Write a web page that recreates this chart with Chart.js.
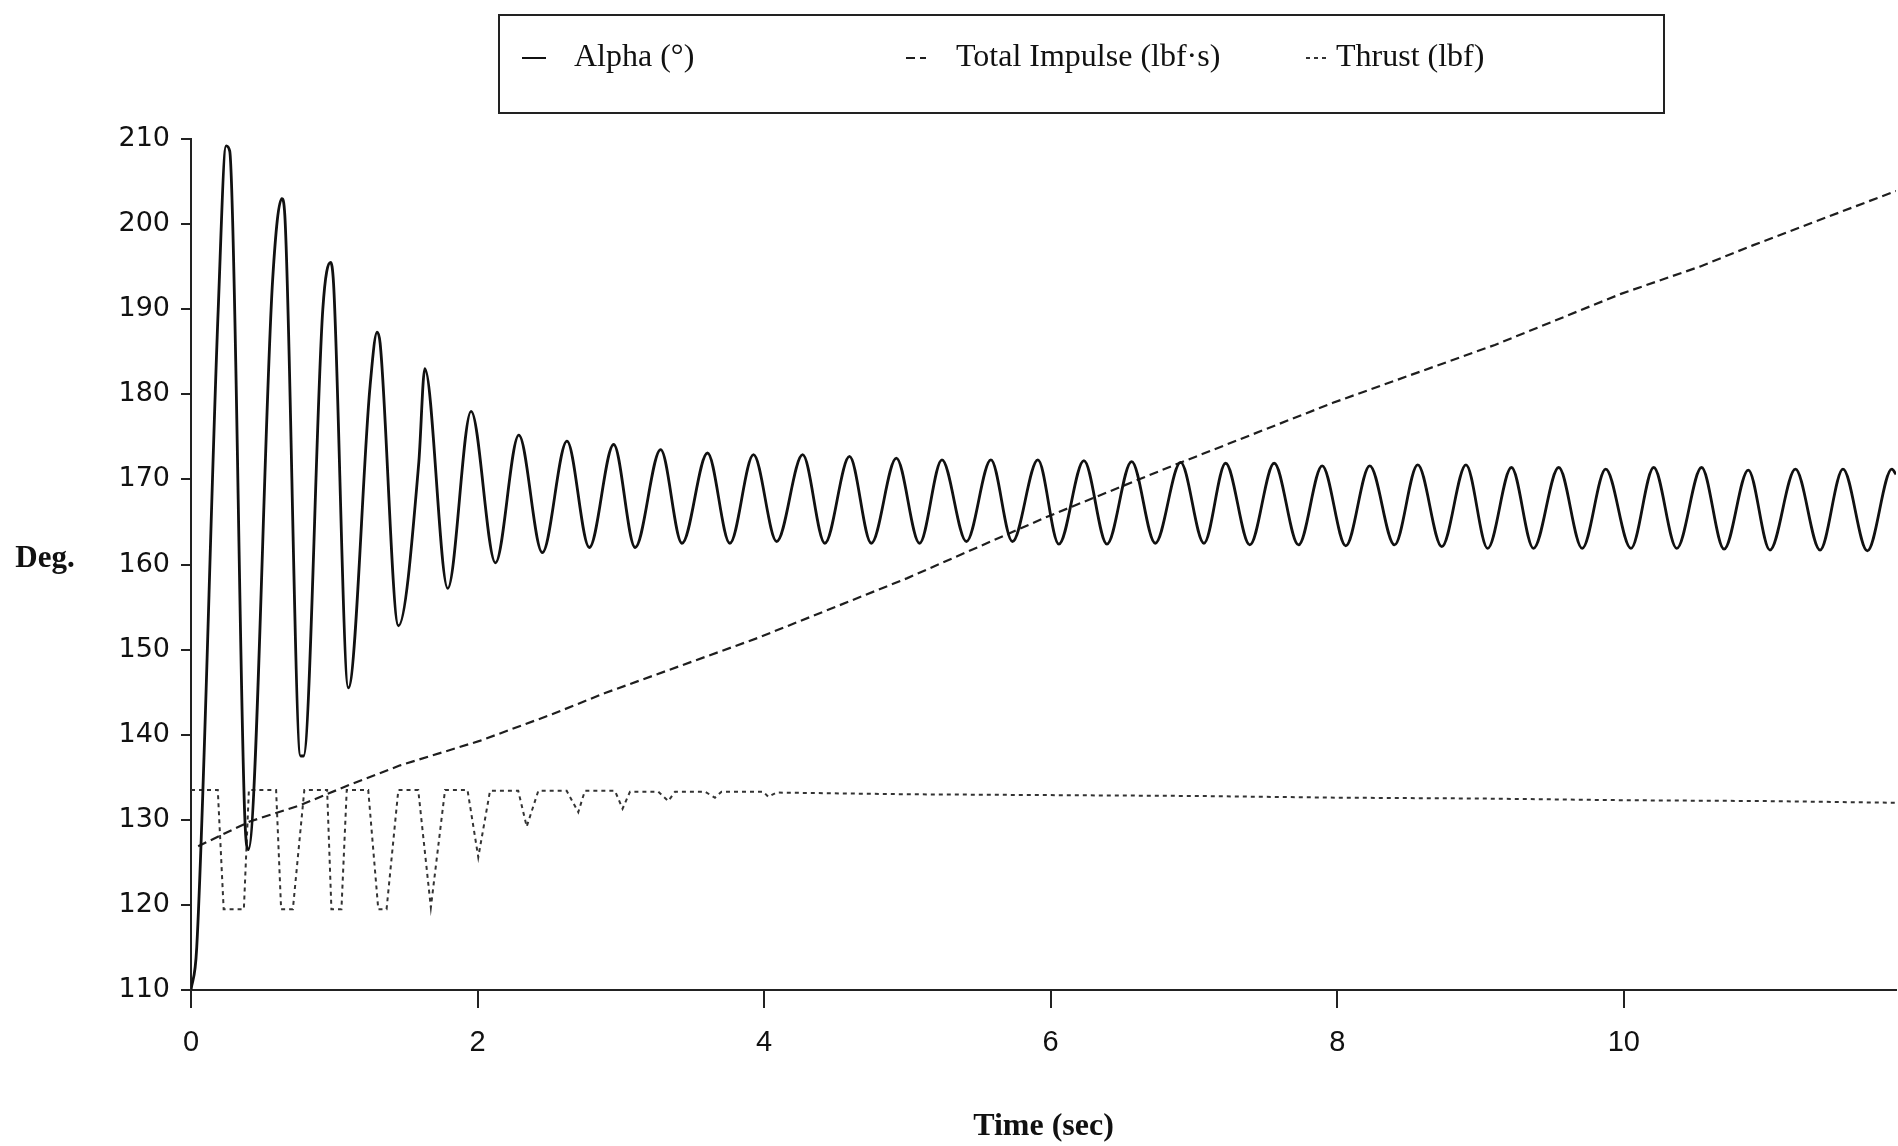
<!DOCTYPE html>
<html>
<head>
<meta charset="utf-8">
<title>Alpha, Total Impulse and Thrust vs Time</title>
<script src="https://cdn.jsdelivr.net/npm/chart.js@4.4.1/dist/chart.umd.min.js"></script>
<style>
  html, body { margin: 0; padding: 0; background: #fff; }
  #wrap { position: relative; width: 1898px; height: 1146px; }
</style>
</head>
<body>
<div id="wrap"><canvas id="myChart"></canvas></div>
<script>
// Series names
const seriesLabels = ["Alpha (°)", "Total Impulse (lbf·s)", "Thrust (lbf)"];

// Alpha (deg) - turning points
const alphaTime = [0, 0.04, 0.19, 0.245, 0.27, 0.375, 0.40, 0.57, 0.634, 0.655, 0.765, 0.785, 0.92, 0.974, 0.995,
    1.098, 1.25, 1.299, 1.32, 1.448, 1.59, 1.632, 1.792, 1.955, 2.125,
    2.288, 2.452, 2.624, 2.780, 2.950, 3.100, 3.278, 3.427, 3.605, 3.761, 3.926, 4.088, 4.269, 4.424,
    4.596, 4.748, 4.923, 5.085, 5.241, 5.412, 5.583, 5.733, 5.911, 6.057, 6.232, 6.393, 6.565, 6.730,
    6.907, 7.07, 7.221, 7.39, 7.560, 7.73, 7.895, 8.06, 8.227, 8.40, 8.562, 8.73, 8.899, 9.05,
    9.216, 9.37, 9.546, 9.71, 9.874, 10.05, 10.209, 10.37, 10.543, 10.70, 10.869, 11.02, 11.198, 11.37,
    11.530, 11.70, 11.871, 11.9];
const alphaDeg = [110, 115, 190, 209.2, 208.6, 130.5, 126.5, 193.5, 203, 201, 137.5, 137.5, 190, 195.5, 193,
    145.5, 181, 187.3, 186, 152.8, 172, 183, 157.2, 178, 160.2,
    175.2, 161.4, 174.5, 162.0, 174.1, 162.0, 173.5, 162.5, 173.1, 162.5, 172.9, 162.7, 172.9, 162.5,
    172.7, 162.5, 172.5, 162.5, 172.3, 162.7, 172.3, 162.7, 172.3, 162.4, 172.2, 162.4, 172.1, 162.5,
    172.0, 162.5, 171.9, 162.3, 171.9, 162.3, 171.6, 162.2, 171.6, 162.3, 171.7, 162.1, 171.7, 161.9,
    171.4, 161.9, 171.4, 161.9, 171.2, 161.9, 171.4, 161.9, 171.4, 161.8, 171.1, 161.7, 171.2, 161.7,
    171.2, 161.6, 171.2, 170.6];

// Total impulse (lbf-s)
const impulseTime = [0.05, 0.41, 0.76, 1.09, 1.46, 2.02, 2.52, 2.89, 3.96, 5.0, 5.96, 6.85, 7.97, 9.1, 9.98, 10.53, 10.9, 11.9];
const impulseValue = [126.9, 129.8, 131.7, 134.0, 136.4, 139.3, 142.4, 144.9, 151.4, 158.4, 165.5, 171.6, 179.0, 185.8, 191.8, 195.0, 197.5, 203.9];

// Thrust (lbf)
const thrustTime = [0, 0.187, 0.228, 0.369, 0.404, 0.594, 0.629, 0.711, 0.791, 0.95, 0.98, 1.05, 1.087,
    1.237, 1.307, 1.365, 1.447, 1.586, 1.674, 1.773, 1.93, 2.005, 2.087, 2.284, 2.343, 2.424,
    2.622, 2.703, 2.749, 2.959, 3.012, 3.064, 3.261, 3.331, 3.378, 3.587, 3.657, 3.703, 3.994, 4.029, 4.087,
    5, 6, 7, 8, 9, 10, 11, 11.9];
const thrustValue = [133.5, 133.5, 119.5, 119.5, 133.5, 133.5, 119.5, 119.5, 133.5, 133.5, 119.5, 119.5, 133.5,
    133.5, 119.5, 119.5, 133.5, 133.5, 119.7, 133.5, 133.5, 125.6, 133.4, 133.4, 129.2, 133.4,
    133.4, 130.9, 133.4, 133.4, 131.3, 133.3, 133.3, 132.2, 133.3, 133.3, 132.6, 133.3, 133.3, 132.7, 133.2,
    133.0, 132.9, 132.8, 132.6, 132.5, 132.3, 132.2, 132.0];

// Axis ticks
const xTicks = [0, 2, 4, 6, 8, 10];
const yTicks = [110, 120, 130, 140, 150, 160, 170, 180, 190, 200, 210];

const toPoints = (xs, ys) => xs.map((x, i) => ({ x: x, y: ys[i] }));

// Boxed legend across the top plus the horizontal "Deg." label
const boxLegend = {
    id: 'boxLegend',
    afterDraw(chart, args, opts) {
        const ctx = chart.ctx;
        ctx.save();
        ctx.strokeStyle = '#222';
        ctx.lineWidth = 2;
        ctx.strokeRect(opts.box[0], opts.box[1], opts.box[2], opts.box[3]);
        ctx.font = opts.font;
        ctx.textBaseline = 'middle';
        chart.data.datasets.forEach((ds, i) => {
            const it = opts.items[i];
            ctx.strokeStyle = ds.borderColor;
            ctx.lineWidth = 2;
            ctx.setLineDash(ds.borderDash || []);
            ctx.beginPath();
            ctx.moveTo(it[0], opts.y);
            ctx.lineTo(it[0] + it[1], opts.y);
            ctx.stroke();
            ctx.setLineDash([]);
            ctx.fillStyle = '#111';
            ctx.fillText(ds.label, it[2], opts.y);
        });
        // y axis caption, written horizontally
        const area = chart.chartArea;
        ctx.font = "bold 31px 'Liberation Serif'";
        ctx.textAlign = 'center';
        ctx.fillText('Deg.', 45, (area.top + area.bottom) / 2 - 6);
        ctx.restore();
    }
};

const config = {
    type: 'line',
    data: {
        datasets: [{
            label: seriesLabels[0],
            data: toPoints(alphaTime, alphaDeg),
            borderColor: '#111',
            borderWidth: 2.8,
            cubicInterpolationMode: 'monotone',
            pointRadius: 0,
            order: 0
        }, {
            label: seriesLabels[1],
            data: toPoints(impulseTime, impulseValue),
            borderColor: '#1e1e1e',
            borderWidth: 2.2,
            borderDash: [9, 5],
            tension: 0,
            pointRadius: 0,
            order: 1
        }, {
            label: seriesLabels[2],
            data: toPoints(thrustTime, thrustValue),
            borderColor: '#333',
            borderWidth: 2,
            borderDash: [4, 4],
            tension: 0,
            pointRadius: 0,
            order: 2
        }]
    },
    options: {
        responsive: true,
        maintainAspectRatio: false,
        animation: false,
        layout: { padding: { top: 139, right: 2, bottom: 0, left: 0 } },
        plugins: {
            legend: { display: false },
            tooltip: { enabled: false },
            boxLegend: {
                box: [499, 15, 1165, 98],
                y: 58,
                font: "32px 'Liberation Serif'",
                items: [[522, 24, 574], [906, 20, 956], [1306, 20, 1336]]
            }
        },
        scales: {
            x: {
                type: 'linear',
                min: 0,
                max: 11.9,
                afterBuildTicks: s => { s.ticks = xTicks.map(v => ({ value: v })); },
                afterFit: s => { s.height = 156; },
                grid: { drawOnChartArea: false, drawTicks: true, tickLength: 18, color: '#222', lineWidth: 2 },
                border: { display: true, color: '#222', width: 2 },
                ticks: { color: '#111', padding: 18, font: { family: "'Liberation Sans'", size: 29 } },
                title: {
                    display: true,
                    text: 'Time (sec)',
                    color: '#111',
                    padding: { top: 0, bottom: 0 },
                    font: { family: "'Liberation Serif'", size: 32, weight: 'bold' }
                }
            },
            y: {
                min: 110,
                max: 210,
                afterBuildTicks: s => { s.ticks = yTicks.map(v => ({ value: v })); },
                afterFit: s => { s.width = 191; },
                grid: { drawOnChartArea: false, drawTicks: true, tickLength: 10, color: '#222', lineWidth: 2 },
                border: { display: true, color: '#222', width: 2 },
                ticks: { color: '#111', padding: 11, font: { family: "'DejaVu Sans'", size: 27 } }
            }
        }
    },
    plugins: [boxLegend]
};

const myChart = new Chart(document.getElementById('myChart'), config);
</script>
</body>
</html>
